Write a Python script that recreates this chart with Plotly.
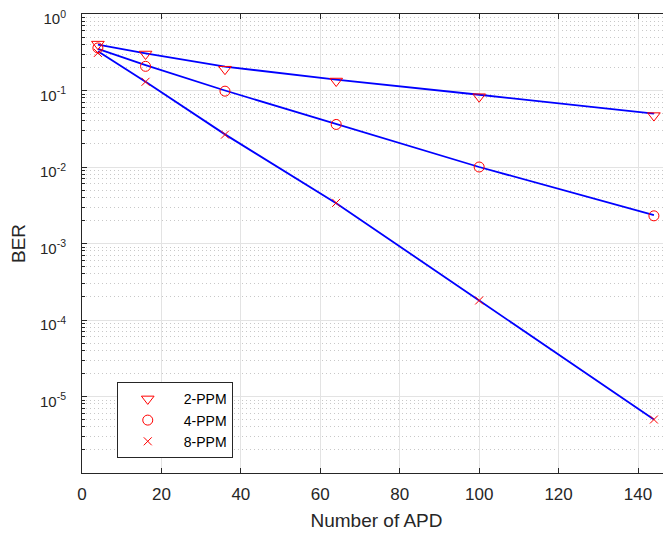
import plotly.graph_objects as go

# Data
n_apd = [4, 16, 36, 64, 100, 144]
series_names = ["2-PPM", "4-PPM", "8-PPM"]
theory_2ppm = [0.398, 0.305, 0.205, 0.139, 0.088, 0.050]
theory_4ppm = [0.35, 0.215, 0.100, 0.0366, 0.0100, 0.00235]
theory_8ppm = [0.326, 0.130, 0.0267, 0.00336, 1.8e-4, 5.0e-6]
sim_2ppm = [0.404, 0.300, 0.190, 0.133, 0.083, 0.047]
sim_4ppm = [0.36, 0.207, 0.098, 0.036, 0.0100, 0.0023]
sim_8ppm = [0.31, 0.130, 0.0265, 0.0034, 1.8e-4, 5.0e-6]
y_tick_vals = [1e-5, 1e-4, 1e-3, 1e-2, 1e-1, 1e0]
y_tick_text = ["10<sup>-5</sup>", "10<sup>-4</sup>", "10<sup>-3</sup>",
               "10<sup>-2</sup>", "10<sup>-1</sup>", "10<sup>0</sup>"]
x_tick_vals = [0, 20, 40, 60, 80, 100, 120, 140]

theories = [theory_2ppm, theory_4ppm, theory_8ppm]
sims = [sim_2ppm, sim_4ppm, sim_8ppm]
symbols = ["triangle-down-open", "circle-open", "x-thin-open"]
sizes = [11, 10, 8]

fig = go.Figure()
for th in theories:
    fig.add_trace(go.Scatter(x=n_apd, y=th, mode="lines",
                             line=dict(color="#0000ff", width=1.8),
                             showlegend=False, hoverinfo="skip"))
for name, sm, sym, sz in zip(series_names, sims, symbols, sizes):
    fig.add_trace(go.Scatter(x=n_apd, y=sm, mode="markers", name=name,
                             cliponaxis=False,
                             marker=dict(symbol=sym, size=sz, color="#ff0000",
                                         line=dict(color="#ff0000", width=1))))

font_family = "Liberation Sans, Arial, Helvetica, sans-serif"
fig.update_layout(
    width=671, height=533,
    margin=dict(l=74, r=8, t=6, b=68, autoexpand=False),
    paper_bgcolor="white", plot_bgcolor="white",
    font=dict(family=font_family, size=15, color="#262626"),
    legend=dict(x=0.059, y=0.1976, xanchor="left", yanchor="top",
                bgcolor="white", bordercolor="#262626", borderwidth=1,
                font=dict(size=14, color="#000000"), itemwidth=62,
                tracegroupgap=0, indentation=-6),
)
fig.update_xaxes(
    range=[0, 148.3], tickvals=x_tick_vals, automargin=False,
    showgrid=True, gridcolor="#e3e3e3", gridwidth=1,
    showline=True, linecolor="#262626", linewidth=1, mirror="ticks",
    ticks="inside", ticklen=5, tickcolor="#262626", zeroline=False,
    ticklabelstandoff=6, ticklabeloverflow="allow",
    title=dict(text="Number of APD", font=dict(size=19), standoff=10),
    tickfont=dict(size=17),
)
fig.update_yaxes(
    type="log", range=[-6, 0], tickmode="array", automargin=False,
    tickvals=y_tick_vals, ticktext=y_tick_text,
    showgrid=True, gridcolor="#e3e3e3", gridwidth=1,
    showline=True, linecolor="#262626", linewidth=1, mirror="ticks",
    ticks="inside", ticklen=5, tickcolor="#262626", zeroline=False,
    ticklabelstandoff=12, ticklabeloverflow="allow", ticklabelshift=5,
    minor=dict(dtick="D1", showgrid=True, gridcolor="#c8c8c8",
               griddash="1px,3px", gridwidth=1, ticks="inside", ticklen=3,
               tickcolor="#262626"),
    title=dict(text="BER", font=dict(size=19), standoff=12),
    tickfont=dict(size=15),
)
fig.write_html("out.html")
